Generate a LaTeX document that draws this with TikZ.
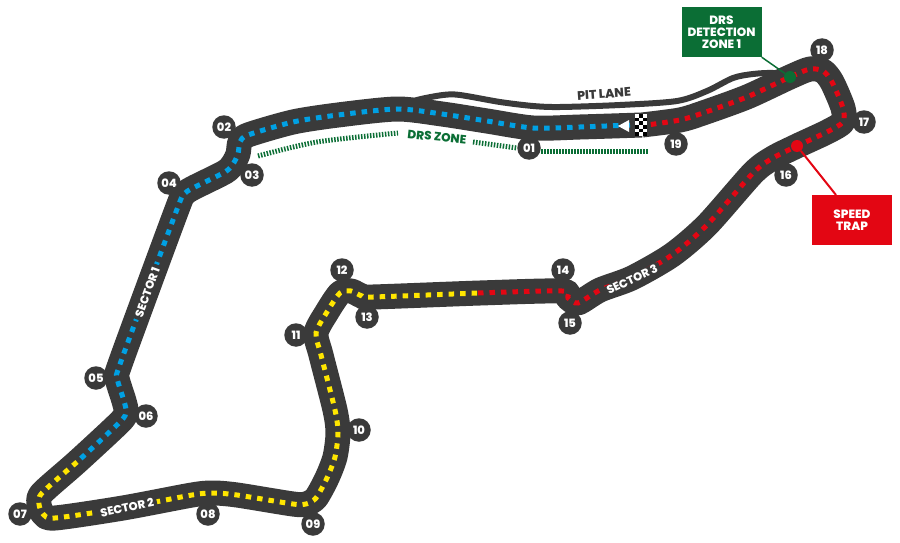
\documentclass[tikz,border=0pt]{standalone}
\usepackage{fontspec}
\setmainfont{Poppins}
\newfontfamily\lab{Poppins}[BoldFont={Poppins ExtraBold}]
\definecolor{track}{HTML}{3A3A3A}
\definecolor{sblue}{HTML}{00A0E3}
\definecolor{syellow}{HTML}{FFE600}
\definecolor{sred}{HTML}{E30613}
\definecolor{dgreen}{HTML}{0B6E35}
\tikzset{
  trackline/.style={draw=track,line width=25pt,line join=round,line cap=butt},
  pitroad/.style={draw=track,line width=6pt,line join=round},
  dashes/.style={line width=5pt,dash pattern=on 5.5pt off 6pt},
  drs/.style={draw=dgreen,line width=5pt,dash pattern=on 1.5pt off 1.5pt},
  turn/.style={circle,fill=track,minimum size=23.5pt,inner sep=0pt,text=white,font=\lab\bfseries\fontsize{11.5pt}{12pt}\selectfont},
  sector/.style={text=white,font=\lab\bfseries\fontsize{11.5pt}{12pt}\selectfont,fill=track,inner xsep=3pt,inner ysep=0pt,text height=9pt,text depth=0pt},
  infobox/.style={text=white,align=center,font=\lab\bfseries\fontsize{12pt}{12.2pt}\selectfont,minimum width=80pt,minimum height=50pt,inner sep=0pt},
  dot/.style={circle,minimum size=12pt,inner sep=0pt},
}
\begin{document}
\begin{tikzpicture}[x=1pt,y=-1pt]
\useasboundingbox (0,0) rectangle (900,543);
% pit lane
\draw[pitroad] plot[smooth,tension=0.5] coordinates {(790,76)(773,73)(753,74)(733,78)(707,91)(677,101)(620,105)(560,107)(533,106)(500,102)(460,95)(443,95)(417,100)(405,106)};
% track
\draw[trackline] plot[smooth,tension=0.45] coordinates {(642,125)(680,120)(703,113)(747,97)(790,77)(810,69)(823,71)(832,82)(843,108)(843,122)(827,132)(797,146)(773,158)(753,173)(707,225)(672,255)(632,278)(600,290)(578,303)(568,298)(562,291)(480,293)(373,297)(362,296)(351,291)(340,293)(327,312)(316,333)(321,355)(335,410)(338,433)(335,457)(327,478)(316,498)(306,504)(293,504)(237,495)(213,493)(192,495)(123,508)(55,518)(43,514)(39,504)(42,493)(77,462)(120,422)(126,412)(124,401)(117,378)(119,367)(146,293)(179,204)(184,194)(193,188)(225,172)(233,164)(238,154)(240,142)(248,135)(293,122)(338,115)(397,109)(442,114)(487,121)(533,128)(580,127)(642,125)};
% sector dashes
\draw[dashes,sblue] plot[smooth,tension=0.45] coordinates {(630,125)(580,127)(533,128)(487,121)(442,114)(397,109)(338,115)(293,122)(248,135)(240,142)(238,154)(233,164)(225,172)(193,188)(184,194)(179,204)(146,293)(119,367)(117,378)(124,401)(126,412)(120,422)(77,462)};
\draw[dashes,syellow] plot[smooth,tension=0.45] coordinates {(77,462)(42,493)(39,504)(43,514)(55,518)(123,508)(192,495)(213,493)(237,495)(293,504)(306,504)(316,498)(327,478)(335,457)(338,433)(335,410)(321,355)(316,333)(327,312)(340,293)(351,291)(362,296)(373,297)(478,293)};
\draw[dashes,sred] plot[smooth,tension=0.45] coordinates {(478,293)(562,291)(568,298)(578,303)(600,290)(632,278)(672,255)(707,225)(753,173)(773,158)(797,146)(827,132)(843,122)(843,108)(832,82)(823,71)(810,69)(790,77)(747,97)(703,113)(680,120)(647,125)};
% start line
\fill[white] (618,126) -- (629,120) -- (629,132) -- cycle;
\fill[white] (635,114) rectangle (647,136);
\foreach \i in {0,1,2,3,4,5}{
  \foreach \j in {0,1,2}{
    \pgfmathparse{int(mod(\i+\j,2))}
    \ifnum\pgfmathresult=1
      \fill[black] (635+\j*4,114+\i*3.67) rectangle (639+\j*4,117.67+\i*3.67);
    \fi
  }
}
% DRS zone
\draw[drs] plot[smooth,tension=0.5] coordinates {(258,156)(317,142)(398,133)};
\draw[drs] (473,142) -- (517,148);
\draw[drs] (541,151) -- (648,151);
\node[text=dgreen,font=\lab\bfseries\fontsize{12pt}{13pt}\selectfont,rotate=-6] (drszone) at (437,137) {DRS ZONE};
\node[text=track,font=\lab\bfseries\fontsize{12.5pt}{13pt}\selectfont,rotate=4] (pit) at (604,94) {PIT LANE};
% sector labels
\node[sector,rotate=70] (s1) at (147,292) {SECTOR 1};
\node[sector,rotate=12] (s2) at (127,507) {SECTOR 2};
\node[sector,rotate=25] (s3) at (632,279) {SECTOR 3};
% turns
\foreach \n/\x/\y in {01/529/148,02/224/127,03/252/175,04/169/183,05/96/378,06/146/416,07/20/514,08/208/514,09/313/524,10/359/430,11/296/335,12/342/270,13/367/317,14/563/270,15/570/323,16/786/175,17/864/122,18/822/50,19/676/144}
  \node[turn] (t\n) at (\x,\y) {\n};
% info boxes
\node[infobox,fill=dgreen] (det) at (721.5,32) {DRS\\DETECTION\\ZONE 1};
\node[dot,fill=dgreen] (detdot) at (790,77) {};
\draw[dgreen,line width=1.5pt] (det.south east) -- (detdot);
\node[infobox,fill=sred] (trap) at (852,220) {SPEED\\TRAP};
\node[dot,fill=sred] (trapdot) at (797,146) {};
\coordinate (trapend) at (836,195);
\draw[sred,line width=2pt] (trapdot) -- (trapend);
\end{tikzpicture}
\end{document}
